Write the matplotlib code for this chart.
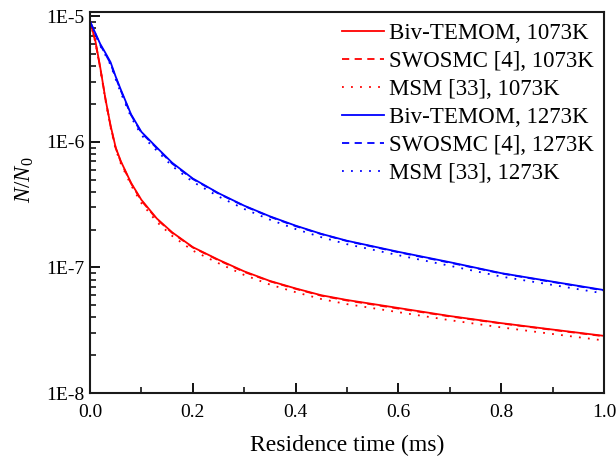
import numpy as np
import matplotlib
matplotlib.use("Agg")
import matplotlib.pyplot as plt
from matplotlib.ticker import FixedLocator, NullFormatter, LogLocator

plt.rcParams['font.family'] = ['Liberation Serif', 'DejaVu Serif']
plt.rcParams['mathtext.fontset'] = 'custom'
plt.rcParams['mathtext.rm'] = 'Liberation Serif'
plt.rcParams['mathtext.it'] = 'Liberation Serif:italic'

# time grid (ms)
t = [0.00, 0.01, 0.02, 0.03, 0.04, 0.05, 0.06, 0.08, 0.10, 0.13, 0.16, 0.20,
     0.25, 0.30, 0.35, 0.40, 0.45, 0.50, 0.60, 0.70, 0.80, 0.90, 1.00]

# 1073 K
biv_1073 = [9.1e-6, 6.5e-6, 3.9e-6, 2.2e-6, 1.35e-6, 9.0e-7, 7.0e-7, 4.7e-7, 3.45e-7,
            2.45e-7, 1.9e-7, 1.45e-7, 1.15e-7, 9.3e-8, 7.8e-8, 6.8e-8, 6.0e-8, 5.5e-8,
            4.75e-8, 4.1e-8, 3.6e-8, 3.2e-8, 2.85e-8]
swo_1073 = [9.1e-6, 6.4e-6, 3.85e-6, 2.2e-6, 1.33e-6, 8.9e-7, 6.9e-7, 4.65e-7, 3.4e-7,
            2.42e-7, 1.88e-7, 1.44e-7, 1.14e-7, 9.2e-8, 7.75e-8, 6.75e-8, 5.95e-8, 5.45e-8,
            4.7e-8, 4.07e-8, 3.58e-8, 3.18e-8, 2.83e-8]
msm_1073 = [9.1e-6, 6.3e-6, 3.8e-6, 2.15e-6, 1.3e-6, 8.7e-7, 6.7e-7, 4.5e-7, 3.25e-7,
            2.3e-7, 1.78e-7, 1.36e-7, 1.08e-7, 8.7e-8, 7.3e-8, 6.35e-8, 5.6e-8, 5.1e-8,
            4.4e-8, 3.8e-8, 3.33e-8, 2.95e-8, 2.62e-8]

# 1273 K
biv_1273 = [9.1e-6, 7.4e-6, 6.0e-6, 5.1e-6, 4.3e-6, 3.3e-6, 2.6e-6, 1.65e-6, 1.2e-6,
            9.0e-7, 6.8e-7, 5.1e-7, 3.9e-7, 3.1e-7, 2.55e-7, 2.15e-7, 1.85e-7, 1.63e-7,
            1.33e-7, 1.1e-7, 9.0e-8, 7.7e-8, 6.6e-8]
swo_1273 = [9.1e-6, 7.3e-6, 5.9e-6, 5.0e-6, 4.2e-6, 3.25e-6, 2.55e-6, 1.63e-6, 1.18e-6,
            8.9e-7, 6.7e-7, 5.05e-7, 3.87e-7, 3.08e-7, 2.53e-7, 2.13e-7, 1.84e-7, 1.62e-7,
            1.32e-7, 1.09e-7, 8.95e-8, 7.65e-8, 6.55e-8]
msm_1273 = [9.1e-6, 7.2e-6, 5.8e-6, 4.9e-6, 4.1e-6, 3.15e-6, 2.45e-6, 1.57e-6, 1.13e-6,
            8.5e-7, 6.4e-7, 4.8e-7, 3.67e-7, 2.92e-7, 2.4e-7, 2.02e-7, 1.74e-7, 1.53e-7,
            1.25e-7, 1.03e-7, 8.45e-8, 7.25e-8, 6.2e-8]

labels = ['Biv-TEMOM, 1073K', 'SWOSMC [4], 1073K', 'MSM [33], 1073K',
          'Biv-TEMOM, 1273K', 'SWOSMC [4], 1273K', 'MSM [33], 1273K']
yticks = [1e-8, 1e-7, 1e-6, 1e-5]
yticklabels = ['1E-8', '1E-7', '1E-6', '1E-5']
xticks = [0.0, 0.2, 0.4, 0.6, 0.8, 1.0]
xticklabels = ['0.0', '0.2', '0.4', '0.6', '0.8', '1.0']

fig = plt.figure(figsize=(6.16, 4.68), dpi=100)
ax = fig.add_axes([90/616, 1-393/468, (604-90)/616, (393-12)/468])

lw = 1.3
ax.plot(t, biv_1073, color='#ff0000', lw=lw, ls='-', label=labels[0])
ax.plot(t, swo_1073, color='#ff0000', lw=lw, ls=(0, (4, 3)), label=labels[1])
ax.plot(t, msm_1073, color='#ff0000', lw=lw, ls=(0, (1, 4)), label=labels[2])
ax.plot(t, biv_1273, color='#0000ff', lw=lw, ls='-', label=labels[3])
ax.plot(t, swo_1273, color='#0000ff', lw=lw, ls=(0, (4, 3)), label=labels[4])
ax.plot(t, msm_1273, color='#0000ff', lw=lw, ls=(0, (1, 4)), label=labels[5])

ax.set_yscale('log')
ax.set_xlim(0, 1.0)
ax.set_ylim(1e-8, 1.08e-5)
ax.set_yticks(yticks)
ax.set_yticklabels(yticklabels)
ax.yaxis.set_minor_locator(LogLocator(base=10, subs=np.arange(2, 10), numticks=20))
ax.yaxis.set_minor_formatter(NullFormatter())
ax.set_xticks(xticks)
ax.set_xticklabels(xticklabels)
ax.xaxis.set_minor_locator(FixedLocator([0.1, 0.3, 0.5, 0.7, 0.9]))

ax.tick_params(which='major', direction='in', length=7, width=1.3, labelsize=14,
               top=False, right=False)
ax.tick_params(axis='y', which='major', pad=4)
ax.tick_params(axis='x', which='major', pad=8)
ax.tick_params(which='minor', direction='in', length=4, width=1.1, top=False, right=False)
for s in ax.spines.values():
    s.set_linewidth(1.5)
    s.set_color('#1a1a1a')

ax.set_xlabel('Residence time (ms)', fontsize=17, labelpad=10)
ax.set_ylabel(r'$N/N_0$', fontsize=16.5)
ax.yaxis.set_label_coords(-0.105, 0.56)

leg = ax.legend(loc='upper right', frameon=False, fontsize=16.5, handlelength=1.83,
                handletextpad=0.22, labelspacing=0.31, borderaxespad=0.0,
                borderpad=0.0, bbox_to_anchor=(0.98, 0.972))

fig.savefig('out.png', dpi=100)
